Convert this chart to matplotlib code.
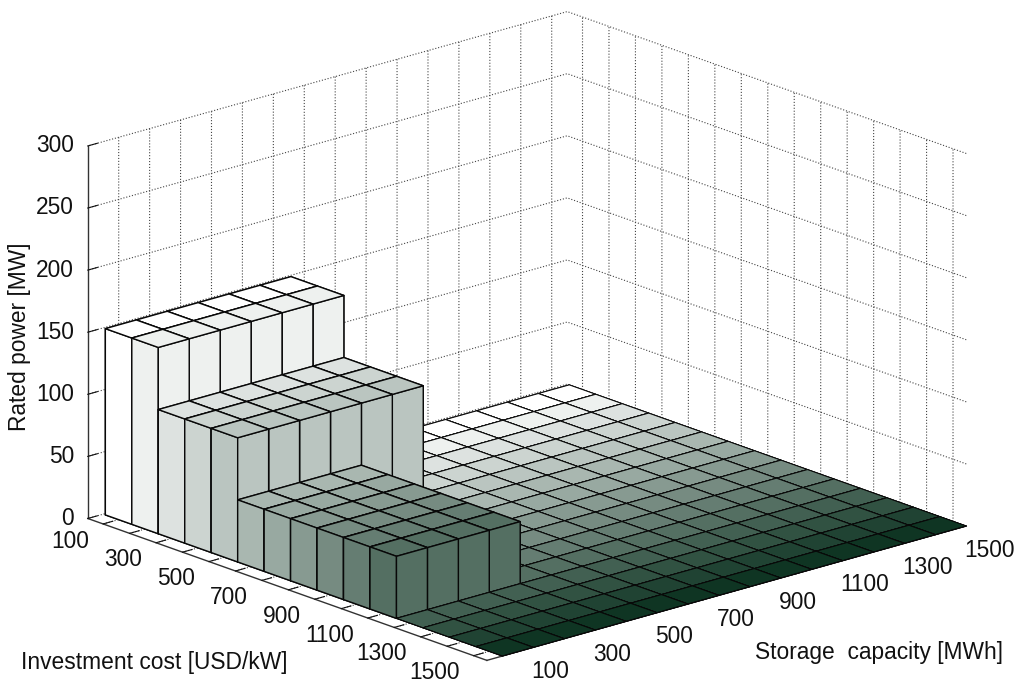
import numpy as np
import matplotlib
matplotlib.use("Agg")
import matplotlib.pyplot as plt
from matplotlib.colors import LinearSegmentedColormap

plt.rcParams['font.family'] = ['Liberation Sans', 'DejaVu Sans']
plt.rcParams['grid.linestyle'] = ':'
plt.rcParams['grid.color'] = '#444444'
plt.rcParams['grid.linewidth'] = 0.8

# investment cost rows, storage capacity columns
investment_labels = ['100', '', '300', '', '500', '', '700', '', '900', '', '1100', '', '1300', '', '1500']
storage_labels = ['100', '', '300', '', '500', '', '700', '', '900', '', '1100', '', '1300', '', '1500']
power_ticks = [0, 50, 100, 150, 200, 250, 300]

rated_power = [
    [150, 150, 150, 150, 150, 150, 0, 0, 0, 0, 0, 0, 0, 0, 0],
    [150, 150, 150, 150, 150, 150, 0, 0, 0, 0, 0, 0, 0, 0, 0],
    [100, 100, 100, 100, 100, 100, 0, 0, 0, 0, 0, 0, 0, 0, 0],
    [100, 100, 100, 100, 100, 100, 0, 0, 0, 0, 0, 0, 0, 0, 0],
    [100, 100, 100, 100, 100, 100, 0, 0, 0, 0, 0, 0, 0, 0, 0],
    [50, 50, 50, 50, 0, 0, 0, 0, 0, 0, 0, 0, 0, 0, 0],
    [50, 50, 50, 50, 0, 0, 0, 0, 0, 0, 0, 0, 0, 0, 0],
    [50, 50, 50, 50, 0, 0, 0, 0, 0, 0, 0, 0, 0, 0, 0],
    [50, 50, 50, 50, 0, 0, 0, 0, 0, 0, 0, 0, 0, 0, 0],
    [50, 50, 50, 50, 0, 0, 0, 0, 0, 0, 0, 0, 0, 0, 0],
    [50, 50, 50, 50, 0, 0, 0, 0, 0, 0, 0, 0, 0, 0, 0],
    [0, 0, 0, 0, 0, 0, 0, 0, 0, 0, 0, 0, 0, 0, 0],
    [0, 0, 0, 0, 0, 0, 0, 0, 0, 0, 0, 0, 0, 0, 0],
    [0, 0, 0, 0, 0, 0, 0, 0, 0, 0, 0, 0, 0, 0, 0],
    [0, 0, 0, 0, 0, 0, 0, 0, 0, 0, 0, 0, 0, 0, 0],
]

cmap = LinearSegmentedColormap.from_list('greens', ['#ffffff', '#0f3523'])

fig = plt.figure(figsize=(10.24, 6.91), dpi=100)
# axes bigger than the figure so nothing gets clipped
side = 1200
ax = fig.add_axes([(527 - 0.5135 * side) / 1024, (355 - 0.5135 * side) / 691, side / 1024, side / 691],
                  projection='3d', proj_type='ortho')
ax.patch.set_visible(False)
ax.computed_zorder = False
ax.view_init(elev=18.4, azim=-41.6)
ax.set_box_aspect((601.7, 641.7, 393), zoom=934.4 / side)

n_rows = len(rated_power)
n_cols = len(rated_power[0])

# back to front so the bars overlap the right way
order = 1
for i in range(n_rows):
    color = cmap(i / (n_rows - 1))
    for j in range(n_cols - 1, -1, -1):
        height = rated_power[i][j]
        # flat cells stroke the same outline several times, so thinner there
        width = 1.0 if height > 0 else 0.7
        bars = ax.bar3d(i + 0.5, j + 0.5, 0, 1, 1, height, color=color,
                        edgecolor='#080808', linewidth=width, shade=False)
        bars.set_zorder(order)
        order += 1

ax.set_xlim(0.42, 15.5)
ax.set_ylim(0, 15.5)
ax.set_zlim(0, 300)

ax.set_xticks(np.arange(1, n_rows + 1))
ax.set_xticklabels(investment_labels)
ax.set_yticks(np.arange(1, n_cols + 1))
ax.set_yticklabels(storage_labels)
ax.set_zticks(power_ticks)
ax.zaxis.set_ticks_position('lower')

for axis in [ax.xaxis, ax.yaxis, ax.zaxis]:
    axis.set_pane_color((1, 1, 1, 0))
    axis.pane.set_edgecolor((1, 1, 1, 0))
    axis.line.set_color('#333333')
    axis.line.set_linewidth(1.0)
    axis._axinfo['tick']['inward_factor'] = 0
    axis._axinfo['tick']['outward_factor'] = 0.25
    axis._axinfo['tick']['linewidth'] = {True: 0.8, False: 0.5}
    axis._axinfo['tick']['color'] = '#333333'

ax.tick_params(axis='both', labelsize=16.4, colors='#111111', pad=4)
ax.xaxis.set_tick_params(pad=5)
ax.yaxis.set_tick_params(pad=7)
ax.zaxis.set_tick_params(pad=-1)

for label in ax.xaxis.get_ticklabels():
    label.set_ha('right')
    label.set_va('center_baseline')
for label in ax.yaxis.get_ticklabels():
    label.set_ha('left')
    label.set_va('center_baseline')
for label in ax.zaxis.get_ticklabels():
    label.set_ha('right')
    label.set_va('center')

fig.text(21 / 1024, 1 - 662 / 691, 'Investment cost [USD/kW]', fontsize=16.4, va='center', color='#111111')
fig.text(755 / 1024, 1 - 652 / 691, 'Storage  capacity [MWh]', fontsize=16.4, va='center', color='#111111')
fig.text(20 / 1024, 1 - 337 / 691, 'Rated power [MW]', fontsize=16.4, rotation=90, va='center', ha='center',
         color='#111111')

fig.savefig('out.png', dpi=100)
